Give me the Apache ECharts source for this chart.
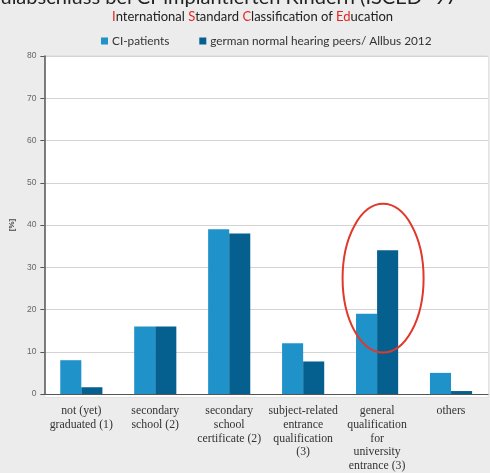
<!DOCTYPE html>
<html>
<head>
<meta charset="utf-8">
<script src="https://cdn.jsdelivr.net/npm/echarts@6/dist/echarts.min.js"></script>
<style>
html,body{margin:0;padding:0;background:#ececec;}
#c{width:490px;height:473px;}
</style>
</head>
<body>
<div id="c"></div>
<script>
const categories = [
  "not (yet)\ngraduated (1)",
  "secondary\nschool (2)",
  "secondary\nschool\ncertificate (2)",
  "subject-related\nentrance\nqualification\n(3)",
  "general\nqualification\nfor\nuniversity\nentrance (3)",
  "others"
];
const ciPatients = [8, 16, 39, 12, 19, 5];
const peers = [1.6, 16, 38, 7.7, 34, 0.7];
const yTicks = [0, 10, 20, 30, 40, 50, 60, 70, 80];
const seriesNames = ["CI-patients", "german normal hearing peers/ Allbus 2012"];

(function () {
const chart = echarts.init(document.getElementById('c'));
const bgRect = { type: 'rect', left: 44, top: 55, shape: { width: 444, height: 342, r: 2 }, style: { fill: '#ffffff', stroke: '#e2e2e2', lineWidth: 1 }, z: -10 };
const mainTitle = { type: 'text', left: -31, top: -12, style: { text: 'Schulabschluss bei CI-implantierten Kindern (ISCED -97 -', font: '20px Lato', fill: '#222' } };
const subTitle = { type: 'text', left: 112, top: 10, style: {
  rich: { r: { fill: '#e52521', font: '13px Lato' }, b: { fill: '#222', font: '13px Lato' } },
  text: '{r|I}{b|nternational }{r|S}{b|tandard }{r|C}{b|lassification of }{r|Ed}{b|ucation}'
} };
const option = {
  backgroundColor: '#ececec',
  animation: false,
  graphic: [bgRect, mainTitle, subTitle],
  legend: {
    data: seriesNames,
    left: 96, top: 30,
    itemWidth: 7, itemHeight: 7, itemGap: 30,
    icon: 'rect',
    textStyle: { fontFamily: 'Lato', fontSize: 11.8, color: '#333', padding: [0, 0, 0, -1] }
  },
  grid: { left: 44, right: 2, top: 56, bottom: 76 },
  xAxis: {
    type: 'category',
    data: categories,
    axisLine: { lineStyle: { color: '#555', width: 1.2 } },
    axisTick: { show: false },
    axisLabel: { interval: 0, margin: 10, fontFamily: '"Liberation Serif", serif', fontSize: 11.8, lineHeight: 13.8, color: '#333' }
  },
  yAxis: {
    type: 'value',
    min: 0, max: 80, interval: 10,
    name: '[%]', nameLocation: 'middle', nameGap: 21, nameRotate: 90,
    nameTextStyle: { fontSize: 8, color: '#444', fontWeight: 'bold' },
    axisLine: { show: true, lineStyle: { color: '#555', width: 1.5 } },
    axisTick: { show: true, length: 4, lineStyle: { color: '#555' } },
    axisLabel: { fontSize: 8.5, color: '#666', margin: 8, formatter: v => yTicks.includes(v) ? String(v) : '' },
    splitLine: { lineStyle: { color: '#d4d4d4', width: 1.2 } }
  },
  series: [
    { name: seriesNames[0], type: 'bar', data: ciPatients, barGap: '0%', barCategoryGap: '43%', itemStyle: { color: '#1f93c9' } },
    { name: seriesNames[1], type: 'bar', data: peers, itemStyle: { color: '#06608f' } }
  ]
};
chart.setOption(option);

const cpt = chart.convertToPixel({ xAxisIndex: 0, yAxisIndex: 0 }, [4, 27]);
const yTop = chart.convertToPixel({ yAxisIndex: 0 }, 45);
const yBot = chart.convertToPixel({ yAxisIndex: 0 }, 9.8);
chart.setOption({
  graphic: [
    bgRect, mainTitle, subTitle,
    { type: 'ellipse', shape: { cx: cpt[0] + 6, cy: (yTop + yBot) / 2, rx: 40.5, ry: (yBot - yTop) / 2 }, style: { fill: 'none', stroke: '#e0392b', lineWidth: 2 }, z: 100 }
  ]
}, { replaceMerge: ['graphic'] });
})();
</script>
</body>
</html>
